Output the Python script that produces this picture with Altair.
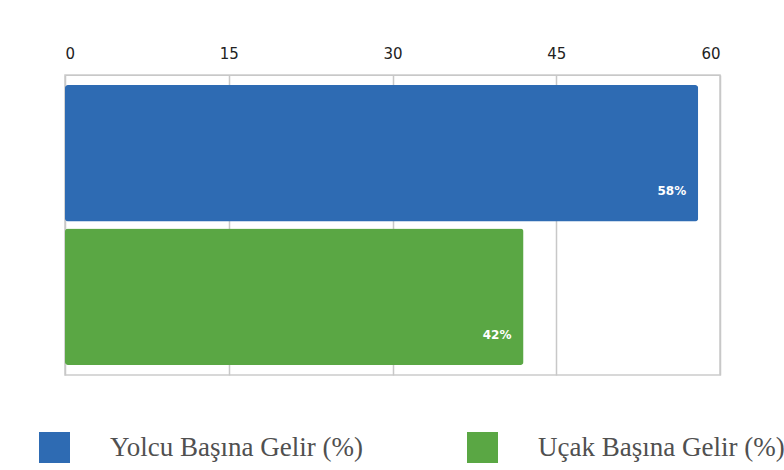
import altair as alt
import pandas as pd

series = ["Yolcu Başına Gelir (%)", "Uçak Başına Gelir (%)"]
values = [58, 42]
labels = ["58%", "42%"]
colors = ["#2e6bb3", "#5aa744"]
ticks = [0, 15, 30, 45, 60]

df = pd.DataFrame({"series": series, "value": values, "label": labels})

base = alt.Chart(df).encode(
    y=alt.Y("series:N", sort=series, axis=None,
            scale=alt.Scale(paddingInner=0.05, paddingOuter=0.07)),
)

bars = base.mark_bar(cornerRadius=3).encode(
    x=alt.X("value:Q",
            scale=alt.Scale(domain=[0, 60], nice=False),
            axis=alt.Axis(orient="top", values=ticks, title=None,
                          labelFont="DejaVu Sans", labelFontSize=15,
                          labelColor="#222222", labelPadding=14,
                          ticks=False, domain=True, domainColor="#c8c8c8",
                          gridColor="#c8c8c8", gridWidth=1.5)),
    color=alt.Color("series:N", sort=series,
                    scale=alt.Scale(domain=series, range=colors),
                    legend=alt.Legend(title=None, orient="none",
                                      legendX=-26, legendY=357,
                                      direction="horizontal",
                                      symbolType="square", symbolSize=960,
                                      symbolStrokeWidth=0,
                                      labelFont="Liberation Serif",
                                      labelFontSize=27, labelColor="#505050",
                                      labelOffset=40, columnPadding=104,
                                      labelLimit=400)),
)

text = base.mark_text(align="right", dx=-12, dy=38, fontWeight="bold",
                      font="DejaVu Sans", fontSize=12, color="white").encode(
    x="value:Q",
    text="label:N",
)

chart = (bars + text).properties(
    width=655, height=300,
    autosize=alt.AutoSizeParams(type="none"),
    padding={"left": 65, "top": 75, "right": 64, "bottom": 95},
).configure_view(stroke="#cccccc", strokeWidth=1.5)

chart.save("out.html", embed_options={"renderer": "svg", "actions": False})
